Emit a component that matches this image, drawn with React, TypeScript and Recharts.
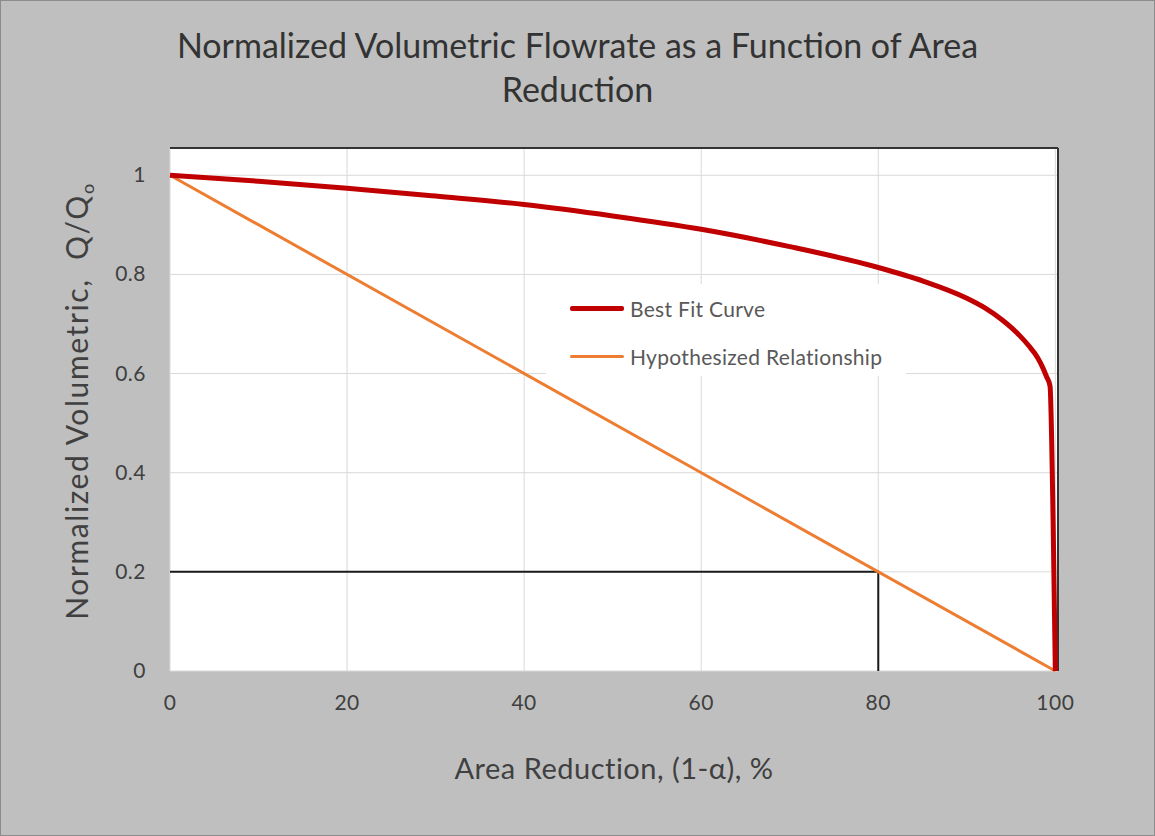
import { LineChart, Line, XAxis, YAxis, CartesianGrid, ReferenceLine } from "recharts";

const fitX = [0, 10, 20, 30, 40, 50, 60, 70, 80, 85, 90, 92, 94, 95, 96, 97, 98, 98.5, 99, 99.4, 99.75, 100];
const fitY = [1, 0.988, 0.974, 0.958, 0.941, 0.918, 0.891, 0.856, 0.814, 0.787, 0.752, 0.733, 0.708, 0.693, 0.676, 0.656, 0.632, 0.615, 0.594, 0.575, 0.3, 0];
const hypoX = [0, 100];
const hypoY = [1, 0];
const guideX = [0, 80, 80];
const guideY = [0.2, 0.2, 0];
const xTicks = [0, 20, 40, 60, 80, 100];
const yTicks = [0, 0.2, 0.4, 0.6, 0.8, 1];
const legendItems = [
  { label: "Best Fit Curve", color: "#C00000", w: 5 },
  { label: "Hypothesized Relationship", color: "#ED7D31", w: 3 },
];

const fitData = fitX.map((x, i) => ({ x, y: fitY[i] }));
const hypoData = hypoX.map((x, i) => ({ x, y: hypoY[i] }));
const guideData = guideX.map((x, i) => ({ x, y: guideY[i] }));

const FONT = "Lato, 'Open Sans', sans-serif";
const INK = "#404040";
const X_MAX = 100.3;
const Y_MAX = 1.055;

function XTick({ x, y, payload }: any) {
  return (
    <text x={x} y={y + 31} textAnchor="middle" fontFamily={FONT} fontSize={21} fill={INK} letterSpacing={0.5}>
      {payload.value}
    </text>
  );
}

function YTick({ y, payload }: any) {
  return (
    <text x={146} y={y + 7} textAnchor="end" fontFamily={FONT} fontSize={21} fill={INK} letterSpacing={0.5}>
      {payload.value}
    </text>
  );
}

function YTitle() {
  return (
    <text
      transform="translate(88, 401) rotate(-90)"
      textAnchor="middle"
      fontFamily={FONT}
      fontSize={30}
      letterSpacing={1.6}
      fill={INK}
    >
      Normalized Volumetric,{"\u00a0\u00a0"}Q/Q
      <tspan fontSize={18} dy={6}>o</tspan>
    </text>
  );
}

function LegendBox() {
  return (
    <div style={{ position: "absolute", left: 546, top: 284, width: 360, height: 92, background: "#fff" }}>
      {legendItems.map((r, i) => (
        <div
          key={r.label}
          style={{ position: "absolute", left: 0, top: 24 + i * 48 - 14, height: 28, display: "flex", alignItems: "center" }}
        >
          <div style={{ width: 54, height: r.w, background: r.color, marginLeft: 24, marginRight: 6, borderRadius: 2 }} />
          <span style={{ fontFamily: FONT, fontSize: 21, letterSpacing: 0.3, color: "#595959" }}>{r.label}</span>
        </div>
      ))}
    </div>
  );
}

export default function App() {
  return (
    <div style={{ position: "absolute", left: 0, top: 0, width: 1155, height: 836, background: "#bfbfbf" }}>
      <div
        style={{
          position: "absolute",
          left: 0,
          top: 23,
          width: 1155,
          textAlign: "center",
          fontFamily: FONT,
          fontSize: 34,
          lineHeight: "44px",
          color: "#333",
        }}
      >
        Normalized Volumetric Flowrate as a Function of Area
        <br />
        Reduction
      </div>
      <LineChart width={1155} height={836} margin={{ top: 148, right: 97, left: 0, bottom: 0 }}>
        <CartesianGrid fill="#fff" stroke="#d9d9d9" strokeWidth={1} />
        <XAxis
          type="number"
          dataKey="x"
          domain={[0, X_MAX]}
          ticks={xTicks}
          height={165}
          axisLine={false}
          tickLine={false}
          tick={<XTick />}
          label={{
            value: "Area Reduction, (1-\u03b1), %",
            position: "insideBottom",
            offset: 57,
            fontFamily: FONT,
            fontSize: 29,
            letterSpacing: 0.5,
            fill: INK,
          }}
        />
        <YAxis
          type="number"
          dataKey="y"
          domain={[0, Y_MAX]}
          ticks={yTicks}
          width={170}
          axisLine={false}
          tickLine={false}
          tick={<YTick />}
          label={<YTitle />}
        />
        <ReferenceLine y={Y_MAX} stroke="#333" strokeWidth={2} />
        <ReferenceLine x={X_MAX} stroke="#333" strokeWidth={2} />
        <Line data={guideData} dataKey="y" type="linear" stroke="#1a1a1a" strokeWidth={2} dot={false} isAnimationActive={false} />
        <Line data={hypoData} dataKey="y" type="linear" stroke="#ED7D31" strokeWidth={3} dot={false} isAnimationActive={false} />
        <Line data={fitData} dataKey="y" type="monotone" stroke="#C00000" strokeWidth={5} dot={false} isAnimationActive={false} />
      </LineChart>
      <LegendBox />
      <div
        style={{
          position: "absolute",
          left: 0,
          top: 0,
          width: 1155,
          height: 836,
          border: "1px solid #8c8c8c",
          boxSizing: "border-box",
          pointerEvents: "none",
        }}
      />
    </div>
  );
}
